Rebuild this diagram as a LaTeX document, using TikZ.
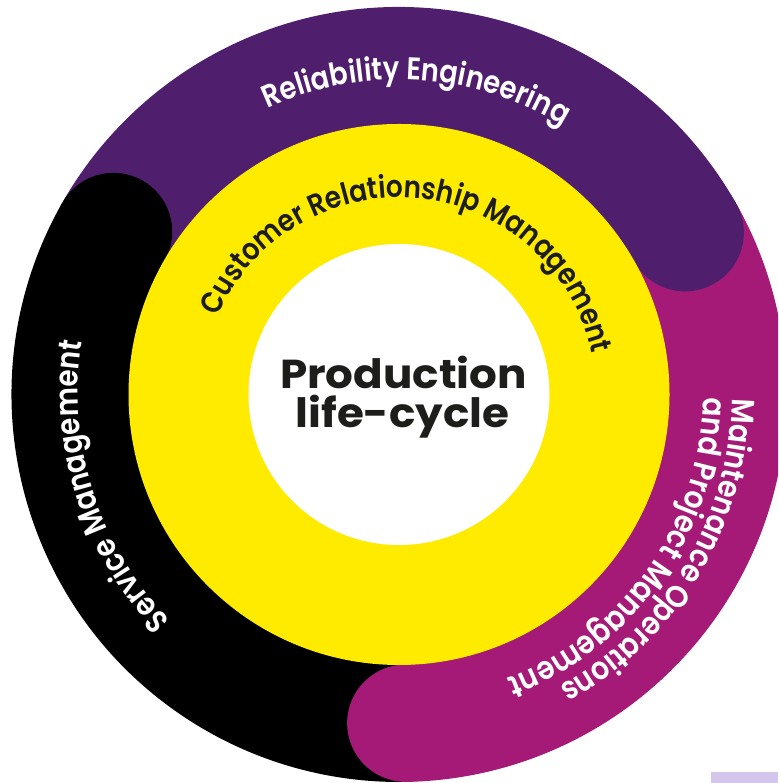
\documentclass[tikz,border=0pt]{standalone}
\usepackage{fontspec}
\setmainfont{Poppins}
\IfFontExistsTF{Poppins SemiBold}{\newfontfamily\ringfont{Poppins SemiBold}[FakeStretch=0.87]}{\newfontfamily\ringfont{Poppins}[FakeBold=0.6,FakeStretch=0.87]}
\newfontfamily\titlefont{Poppins}[FakeStretch=1.08]
\usetikzlibrary{decorations.text}
\definecolor{bandpurple}{HTML}{4F1F6E}
\definecolor{bandmagenta}{HTML}{A51A77}
\definecolor{bandblack}{HTML}{000000}
\definecolor{coreyellow}{HTML}{FFEB00}
\definecolor{inktext}{HTML}{1D1D1B}
\definecolor{lavender}{HTML}{D4C5EC}
\newlength\measw
% #1 macro, #2 font switch, #3 text, #4 target width (pt)
\newcommand\sizeforwidth[4]{%
  \settowidth\measw{#2\fontsize{10}{10}\selectfont #3}%
  \pgfmathsetmacro#1{10*#4/\measw}}
\tikzset{
  band/.style={line width=117.5pt},
  ringlabel/.style={decorate, decoration={text along path, text align=center, text color=#1}},
  titletext/.style={inner sep=0pt, anchor=base, text=inktext}
}
\begin{document}
\sizeforwidth\szRel{\ringfont}{Reliability Engineering}{308}%
\sizeforwidth\szCus{\ringfont}{Customer Relationship Management}{498}%
\sizeforwidth\szSer{\ringfont}{Service Management}{303}%
\sizeforwidth\szMai{\ringfont}{Maintenance Operations}{352}%
\sizeforwidth\szAnd{\ringfont}{and Project Management}{364}%
\sizeforwidth\szTit{\titlefont\bfseries}{Production}{247}%
\begin{tikzpicture}[x=1pt,y=1pt]
\useasboundingbox (0,0) rectangle (778,783);
\clip (0,0) rectangle (778,783);
\coordinate (O) at (399,388.5);
\def\Rm{328.75}
% band arcs
\draw[band, bandmagenta] ([shift={(271.2:\Rm)}]O) arc[start angle=271.2, end angle=389.5, radius=\Rm];
\draw[band, bandblack] ([shift={(150.3:\Rm)}]O) arc[start angle=150.3, end angle=271.2, radius=\Rm];
\draw[band, bandpurple] ([shift={(29.5:\Rm)}]O) arc[start angle=29.5, end angle=150.3, radius=\Rm];
% rounded caps
\fill[bandblack] ([shift={(150.3:\Rm)}]O) circle[radius=58.75];
\fill[bandpurple] ([shift={(29.5:\Rm)}]O) circle[radius=58.75];
\fill[bandmagenta] ([shift={(271.2:\Rm)}]O) circle[radius=58.75];
% inner discs
\fill[coreyellow] (O) circle[radius=270.5];
\fill[white] (O) circle[radius=150.5];
% ring labels (centred on their mid angles)
\path[ringlabel=white, decoration={text={|\ringfont\fontsize{\szRel}{\szRel}\selectfont|Reliability Engineering}}]
  ([shift={(146.65:315)}]O) arc[start angle=146.65, end angle=26.65, radius=315];
\path[ringlabel=inktext, decoration={text={|\ringfont\fontsize{\szCus}{\szCus}\selectfont|Customer Relationship Management}}]
  ([shift={(179.3:197)}]O) arc[start angle=179.3, end angle=-10.7, radius=197];
\path[ringlabel=white, decoration={text={|\ringfont\fontsize{\szSer}{\szSer}\selectfont|Service Management}}]
  ([shift={(237.6:321)}]O) arc[start angle=237.6, end angle=157.6, radius=321];
\path[ringlabel=white, decoration={text={|\ringfont\fontsize{\szMai}{\szMai}\selectfont|Maintenance Operations}}]
  ([shift={(9.05:333)}]O) arc[start angle=9.05, end angle=-70.95, radius=333];
\path[ringlabel=white, decoration={text={|\ringfont\fontsize{\szAnd}{\szAnd}\selectfont|and Project Management}}]
  ([shift={(5.1:304)}]O) arc[start angle=5.1, end angle=-74.9, radius=304];
% centre title
\node[titletext, font=\titlefont\bfseries\fontsize{\szTit}{\szTit}\selectfont] (title1) at (403.5,394) {Production};
\node[titletext, font=\titlefont\bfseries\fontsize{\szTit}{\szTit}\selectfont] (title2) at (402.5,355) {life-cycle};
% small lavender strip
\fill[lavender] (711,0) rectangle (778,11);
\end{tikzpicture}
\end{document}
